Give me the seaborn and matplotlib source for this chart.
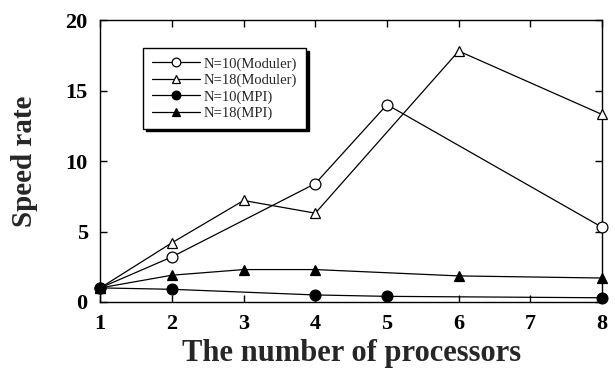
import matplotlib
matplotlib.use("Agg")
import matplotlib.pyplot as plt
import seaborn as sns
import pandas as pd

sns.set_style("white")
plt.rcParams['font.family'] = ['Liberation Serif', 'DejaVu Serif']

x_n10_mod = [1, 2, 4, 5, 8]
y_n10_mod = [1.0, 3.2, 8.4, 14.0, 5.3]
x_n18_mod = [1, 2, 3, 4, 6, 8]
y_n18_mod = [1.0, 4.2, 7.2, 6.3, 17.8, 13.3]
x_n10_mpi = [1, 2, 4, 5, 8]
y_n10_mpi = [1.0, 0.9, 0.5, 0.4, 0.3]
x_n18_mpi = [1, 2, 3, 4, 6, 8]
y_n18_mpi = [1.0, 1.9, 2.3, 2.3, 1.85, 1.7]
labels = ["N=10(Moduler)", "N=18(Moduler)", "N=10(MPI)", "N=18(MPI)"]
x_ticks = [1, 2, 3, 4, 5, 6, 7, 8]
y_ticks = [0, 5, 10, 15, 20]

series = [
    (x_n10_mod, y_n10_mod, labels[0], 'o', 'white'),
    (x_n18_mod, y_n18_mod, labels[1], '^', 'white'),
    (x_n10_mpi, y_n10_mpi, labels[2], 'o', 'black'),
    (x_n18_mpi, y_n18_mpi, labels[3], '^', 'black'),
]

fig = plt.figure(figsize=(6.15, 3.71), dpi=100)
ax = fig.add_axes([0.163, 0.186, 0.816, 0.76])

for xs, ys, lab, m, fc in series:
    df = pd.DataFrame({"x": xs, "y": ys})
    sns.lineplot(data=df, x="x", y="y", ax=ax, color="black", linewidth=0.9,
                 marker=m, markersize=7.8, markerfacecolor=fc,
                 markeredgecolor="black", markeredgewidth=0.9, label=lab,
                 clip_on=False, zorder=3)

ax.set_xlim(1, 8)
ax.set_ylim(0, 20)
ax.set_xticks(x_ticks)
ax.set_yticks(y_ticks)
ax.tick_params(axis='both', direction='in', length=5, width=1, top=True, right=True,
               bottom=True, left=True, labelsize=16, colors='black')
ax.tick_params(axis='x', pad=9)
ax.tick_params(axis='y', pad=9)
for lbl in ax.get_xticklabels() + ax.get_yticklabels():
    lbl.set_fontweight('bold')
for s in ax.spines.values():
    s.set_color('black')
    s.set_linewidth(1)

ax.set_xlabel("The number of processors", fontsize=22, fontweight='bold', labelpad=3)
ax.set_ylabel("Speed rate", fontsize=21, fontweight='bold', labelpad=20)

leg = ax.legend(loc='upper left', bbox_to_anchor=(0.071, 0.925), fontsize=10.5,
                frameon=True, fancybox=False, handlelength=3.3, markerscale=0.8,
                borderpad=0.6, labelspacing=0.2, handletextpad=0.25,
                shadow={'color': 'black', 'alpha': 1})
leg.get_frame().set_edgecolor('black')
leg.get_frame().set_linewidth(1)

fig.savefig("out.png", dpi=100)
